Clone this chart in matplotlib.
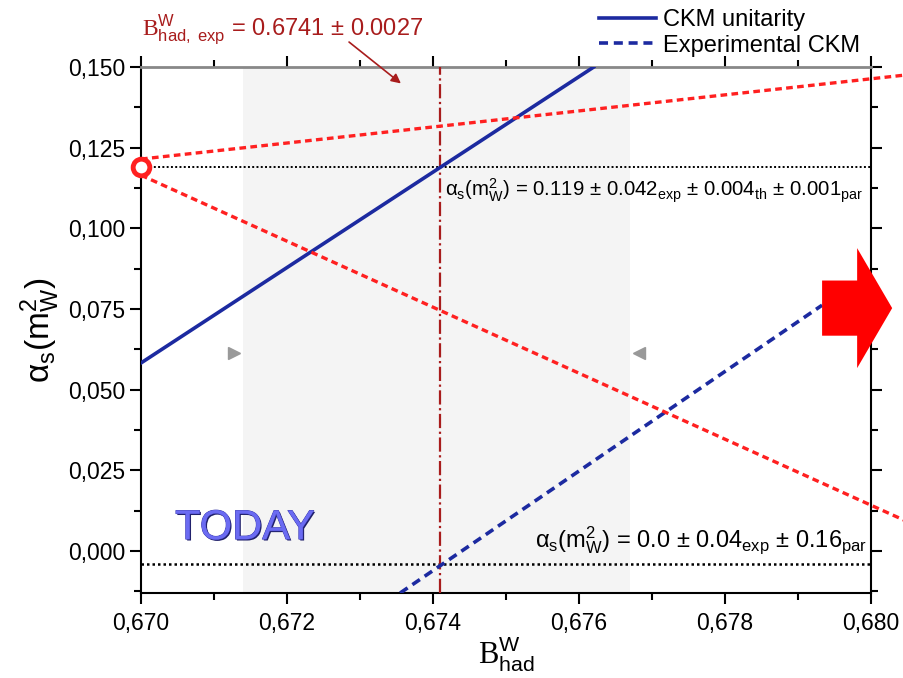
import numpy as np
import matplotlib
matplotlib.use("Agg")
import matplotlib.pyplot as plt
import matplotlib.patheffects as pe
from matplotlib.ticker import MultipleLocator, FuncFormatter
from matplotlib.lines import Line2D

plt.rcParams['font.family'] = ['Liberation Sans', 'DejaVu Sans']
plt.rcParams['mathtext.fontset'] = 'custom'
plt.rcParams['mathtext.rm'] = 'Liberation Sans'
plt.rcParams['mathtext.it'] = 'Liberation Sans'
plt.rcParams['mathtext.tt'] = 'Liberation Serif'
plt.rcParams['mathtext.default'] = 'rm'

# data
ckm_x = [0.6700, 0.6762]
ckm_y = [0.0583, 0.1500]
exp_x = [0.67355, 0.67933]
exp_y = [-0.0130, 0.0762]
red_up_x = [0.6700, 0.68045]
red_up_y = [0.1215, 0.1475]
red_lo_x = [0.6700, 0.68045]
red_lo_y = [0.1165, 0.0096]
b_exp = 0.6741
b_band = [0.6714, 0.6767]
alpha_today = 0.119
alpha_exp = -0.004

blue = '#1c2aa0'
red = '#ff2020'
dred = '#a81c1c'

fig = plt.figure(figsize=(9.04, 6.78), dpi=100)
ax = fig.add_axes([0.156, 0.1254, 0.8075, 0.7756])

ax.axvspan(b_band[0], b_band[1], color='#f4f4f4', zorder=0, lw=0)
ax.plot([b_band[0] - 0.00012], [0.0614], marker='>', ms=9, color='#999999', clip_on=False)
ax.plot([b_band[1] + 0.00012], [0.0614], marker='<', ms=9, color='#999999', clip_on=False)

ax.axhline(alpha_today, color='black', ls=(0, (1, 1.2)), lw=1.4, zorder=2)
ax.axhline(alpha_exp, color='black', ls=(0, (1, 1.2)), lw=1.8, zorder=2)
ax.axvline(b_exp, color=dred, ls='-.', lw=1.6, zorder=3)

ax.plot(ckm_x, ckm_y, color=blue, lw=2.6, zorder=4)
ax.plot(exp_x, exp_y, color=blue, lw=2.6, ls=(0, (2.5, 1.6)), zorder=4)
ax.plot(red_up_x, red_up_y, color=red, lw=2.4, ls=(0, (2, 1.3)), clip_on=False, zorder=4)
ax.plot(red_lo_x, red_lo_y, color=red, lw=2.4, ls=(0, (2, 1.3)), clip_on=False, zorder=4)
ax.plot([0.670], [alpha_today], marker='o', ms=12, mfc='white', mec=red, mew=3.5,
        clip_on=False, zorder=6)

# big red arrow on the right
ax.arrow(0.67933, 0.0753, 0.00048, 0, width=0.0171, head_width=0.0372,
         head_length=0.00048, length_includes_head=False, color='#ff0000',
         lw=0, clip_on=False, zorder=7)

ax.set_xlim(0.670, 0.680)
ax.set_ylim(-0.013, 0.150)

ax.xaxis.set_major_locator(MultipleLocator(0.002))
ax.xaxis.set_minor_locator(MultipleLocator(0.001))
ax.yaxis.set_major_locator(MultipleLocator(0.025))
ax.yaxis.set_minor_locator(MultipleLocator(0.0125))
fmt = FuncFormatter(lambda v, p: f'{v:.3f}'.replace('.', ','))
ax.xaxis.set_major_formatter(fmt)
ax.yaxis.set_major_formatter(fmt)
ax.tick_params(which='both', direction='out', top=True, right=True, width=1.5)
ax.tick_params(which='major', length=8, labelsize=16.5)
ax.tick_params(which='minor', length=5)
ax.tick_params(axis='x', pad=6)
for s in ['left', 'bottom', 'right']:
    ax.spines[s].set_linewidth(1.5)
ax.spines['top'].set_color('#888888')
ax.spines['top'].set_linewidth(2)

ax.set_ylabel(r'$\alpha_s(m^2_W)$', fontsize=24, labelpad=4)
ax.set_xlabel(r'$\mathtt{B}^{W}_{had}$', fontsize=22, labelpad=-1)

ax.text(0.67416, 0.1118,
        r'$\alpha_s(m^2_W)$ = 0.119 ± 0.042$_{exp}$ ± 0.004$_{th}$ ± 0.001$_{par}$',
        fontsize=14.7, va='center', ha='left', zorder=5)
ax.text(0.67995, -0.0015,
        r'$\alpha_s(m^2_W)$ = 0.0 ± 0.04$_{exp}$ ± 0.16$_{par}$',
        fontsize=17, va='bottom', ha='right', zorder=5)

ax.text(0.67142, 0.0071, 'TODAY', fontsize=30, color='#6b6bf2', ha='center', va='center',
        path_effects=[pe.withSimplePatchShadow(offset=(1, -1), shadow_rgbFace='#20206a', alpha=1),
                      pe.withStroke(linewidth=0.6, foreground='#3a3aa8')])

ax.text(0.1945, 1.07, r'$\mathtt{B}^{W}_{had,\ exp}$ = 0.6741 ± 0.0027', transform=ax.transAxes,
        fontsize=17, color=dred, ha='center', va='center')
ax.annotate('', xy=(0.67359, 0.1444), xytext=(0.282, 1.051), textcoords='axes fraction',
            arrowprops=dict(arrowstyle='-|>', color=dred, lw=1.2, mutation_scale=14))

handles = [Line2D([], [], color=blue, lw=2.6),
           Line2D([], [], color=blue, lw=2.6, ls=(0, (2.5, 1.6)))]
fig.legend(handles, ['CKM unitarity', 'Experimental CKM'], loc='upper right',
           bbox_to_anchor=(0.975, 1.018), frameon=False, fontsize=17,
           handlelength=2.4, handletextpad=0.3, labelspacing=0.15)

fig.savefig('out.png', dpi=100)
